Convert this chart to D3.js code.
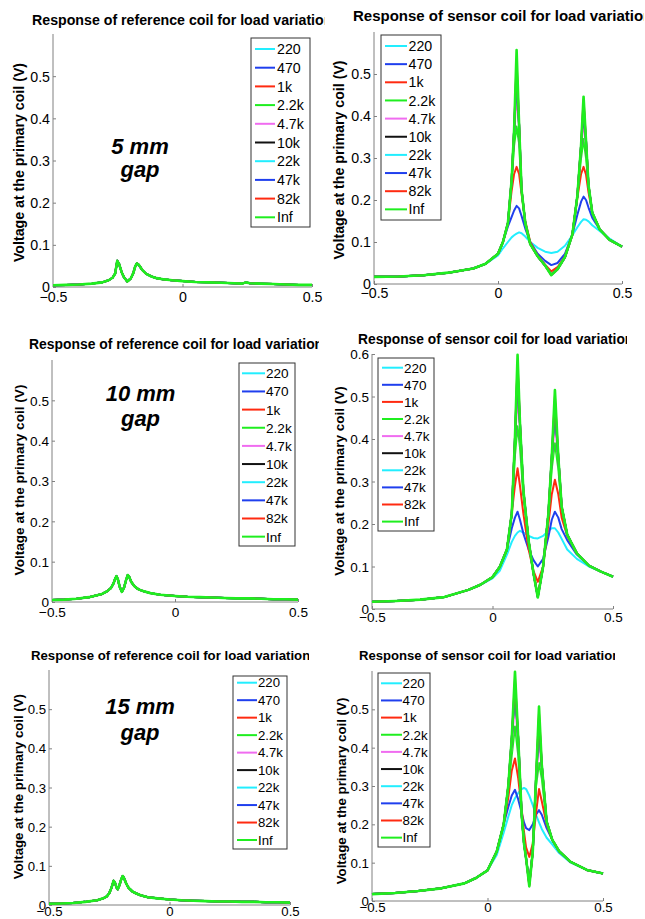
<!DOCTYPE html>
<html>
<head>
<meta charset="utf-8">
<script src="https://cdn.jsdelivr.net/npm/d3@7"></script>
<style>
  body { margin: 0; background: #fff; }
  svg { display: block; font-family: 'Liberation Sans', Arial, sans-serif; }
</style>
</head>
<body>
<div id="chart-area"></div>
<script>
const loads = ['220', '470', '1k', '2.2k', '4.7k', '10k', '22k', '47k', '82k', 'Inf'];
const loadColors = ['#22eeff', '#1f3fee', '#ff2a10', '#1fee1f', '#f06cf0', '#111111', '#22eeff', '#1f3fee', '#ff2a10', '#1fee1f'];
const xTicks = [-0.5, 0, 0.5];
const yTicks = [0, 0.1, 0.2, 0.3, 0.4, 0.5];
const yTicksTall = [0, 0.1, 0.2, 0.3, 0.4, 0.5, 0.6];

// reference coil: all loads sit on the same trace
const refX5 = [-0.5, -0.45, -0.4, -0.35, -0.31, -0.285, -0.27, -0.26, -0.252, -0.245, -0.235, -0.225, -0.213, -0.2, -0.19, -0.182, -0.176, -0.168, -0.155, -0.14, -0.12, -0.1, -0.07, -0.04, 0, 0.05, 0.1, 0.15, 0.2, 0.23, 0.245, 0.26, 0.3, 0.35, 0.4, 0.45, 0.5];
const refY5 = [0.004, 0.005, 0.006, 0.008, 0.011, 0.016, 0.022, 0.032, 0.062, 0.055, 0.035, 0.022, 0.013, 0.02, 0.033, 0.05, 0.056, 0.052, 0.04, 0.031, 0.025, 0.021, 0.018, 0.016, 0.014, 0.012, 0.011, 0.01, 0.009, 0.008, 0.011, 0.009, 0.008, 0.007, 0.006, 0.005, 0.005];
const refX10 = [-0.5, -0.45, -0.4, -0.35, -0.3, -0.275, -0.26, -0.25, -0.243, -0.238, -0.232, -0.225, -0.216, -0.207, -0.199, -0.192, -0.186, -0.178, -0.165, -0.15, -0.13, -0.1, -0.06, 0, 0.05, 0.1, 0.15, 0.2, 0.25, 0.3, 0.35, 0.4, 0.45, 0.5];
const refY10 = [0.005, 0.006, 0.008, 0.012, 0.019, 0.027, 0.035, 0.046, 0.058, 0.064, 0.056, 0.038, 0.025, 0.036, 0.054, 0.067, 0.062, 0.05, 0.039, 0.032, 0.027, 0.022, 0.018, 0.015, 0.013, 0.012, 0.011, 0.01, 0.009, 0.009, 0.008, 0.007, 0.007, 0.006];
const refX15 = [-0.5, -0.45, -0.4, -0.35, -0.3, -0.275, -0.26, -0.25, -0.24, -0.232, -0.226, -0.22, -0.215, -0.208, -0.2, -0.194, -0.188, -0.18, -0.17, -0.155, -0.14, -0.12, -0.09, -0.05, 0, 0.05, 0.1, 0.15, 0.2, 0.25, 0.3, 0.35, 0.4, 0.45, 0.5];
const refY15 = [0.003, 0.004, 0.005, 0.008, 0.012, 0.017, 0.022, 0.03, 0.045, 0.062, 0.057, 0.045, 0.04, 0.05, 0.066, 0.074, 0.068, 0.055, 0.044, 0.035, 0.03, 0.025, 0.02, 0.017, 0.014, 0.012, 0.011, 0.01, 0.009, 0.009, 0.008, 0.008, 0.007, 0.007, 0.006];

// sensor coil: one row per load, same order as `loads`
const sensX5 = [-0.5, -0.4, -0.3, -0.2, -0.1, -0.05, 0, 0.02, 0.04, 0.055, 0.065, 0.075, 0.085, 0.095, 0.11, 0.13, 0.16, 0.19, 0.215, 0.24, 0.27, 0.3, 0.32, 0.335, 0.345, 0.355, 0.365, 0.38, 0.41, 0.45, 0.5];
const sensY5 = [
  [0.017, 0.018, 0.021, 0.027, 0.037, 0.048, 0.068, 0.085, 0.1, 0.111, 0.116, 0.12, 0.123, 0.121, 0.113, 0.1, 0.086, 0.077, 0.074, 0.077, 0.091, 0.116, 0.135, 0.148, 0.154, 0.153, 0.149, 0.14, 0.126, 0.108, 0.089],
  [0.017, 0.018, 0.021, 0.027, 0.037, 0.048, 0.072, 0.1, 0.137, 0.16, 0.175, 0.186, 0.18, 0.162, 0.132, 0.1, 0.072, 0.055, 0.045, 0.05, 0.072, 0.118, 0.165, 0.196, 0.208, 0.2, 0.182, 0.158, 0.13, 0.105, 0.089],
  [0.017, 0.018, 0.021, 0.027, 0.037, 0.048, 0.072, 0.1, 0.145, 0.222, 0.262, 0.279, 0.262, 0.215, 0.15, 0.1, 0.068, 0.046, 0.03, 0.04, 0.066, 0.118, 0.205, 0.262, 0.279, 0.26, 0.218, 0.17, 0.13, 0.105, 0.089],
  [0.017, 0.018, 0.021, 0.027, 0.037, 0.048, 0.072, 0.1, 0.145, 0.245, 0.33, 0.375, 0.335, 0.224, 0.145, 0.095, 0.066, 0.044, 0.023, 0.036, 0.064, 0.118, 0.21, 0.3, 0.345, 0.3, 0.235, 0.17, 0.13, 0.105, 0.089],
  [0.017, 0.018, 0.021, 0.027, 0.037, 0.048, 0.072, 0.1, 0.145, 0.248, 0.36, 0.45, 0.37, 0.224, 0.145, 0.095, 0.066, 0.044, 0.022, 0.035, 0.064, 0.118, 0.21, 0.325, 0.385, 0.33, 0.235, 0.17, 0.13, 0.105, 0.089],
  [0.017, 0.018, 0.021, 0.027, 0.037, 0.048, 0.072, 0.1, 0.145, 0.248, 0.367, 0.49, 0.38, 0.224, 0.145, 0.095, 0.066, 0.044, 0.022, 0.035, 0.064, 0.118, 0.21, 0.33, 0.41, 0.34, 0.235, 0.17, 0.13, 0.105, 0.089],
  [0.017, 0.018, 0.021, 0.027, 0.037, 0.048, 0.072, 0.1, 0.145, 0.248, 0.367, 0.5, 0.38, 0.224, 0.145, 0.095, 0.066, 0.044, 0.022, 0.035, 0.064, 0.118, 0.21, 0.33, 0.42, 0.34, 0.235, 0.17, 0.13, 0.105, 0.089],
  [0.017, 0.018, 0.021, 0.027, 0.037, 0.048, 0.072, 0.1, 0.145, 0.248, 0.367, 0.52, 0.38, 0.224, 0.145, 0.095, 0.066, 0.044, 0.022, 0.035, 0.064, 0.118, 0.21, 0.33, 0.43, 0.34, 0.235, 0.17, 0.13, 0.105, 0.089],
  [0.017, 0.018, 0.021, 0.027, 0.037, 0.048, 0.072, 0.1, 0.145, 0.248, 0.367, 0.53, 0.38, 0.224, 0.145, 0.095, 0.066, 0.044, 0.022, 0.035, 0.064, 0.118, 0.21, 0.33, 0.44, 0.34, 0.235, 0.17, 0.13, 0.105, 0.089],
  [0.017, 0.018, 0.021, 0.027, 0.037, 0.048, 0.072, 0.1, 0.145, 0.248, 0.367, 0.557, 0.38, 0.224, 0.145, 0.095, 0.066, 0.044, 0.021, 0.035, 0.064, 0.118, 0.21, 0.33, 0.446, 0.34, 0.235, 0.17, 0.13, 0.105, 0.089]
];
const sensX10 = [-0.5, -0.4, -0.3, -0.2, -0.1, -0.05, 0, 0.03, 0.06, 0.08, 0.093, 0.104, 0.114, 0.128, 0.15, 0.17, 0.188, 0.21, 0.232, 0.246, 0.259, 0.273, 0.287, 0.31, 0.35, 0.4, 0.45, 0.5];
const sensY10 = [
  [0.017, 0.019, 0.022, 0.028, 0.045, 0.057, 0.072, 0.09, 0.128, 0.158, 0.172, 0.18, 0.184, 0.18, 0.172, 0.167, 0.166, 0.172, 0.184, 0.19, 0.19, 0.18, 0.165, 0.14, 0.118, 0.1, 0.088, 0.076],
  [0.017, 0.019, 0.022, 0.028, 0.045, 0.057, 0.075, 0.099, 0.14, 0.19, 0.215, 0.229, 0.21, 0.178, 0.14, 0.115, 0.1, 0.118, 0.17, 0.21, 0.229, 0.215, 0.188, 0.162, 0.128, 0.102, 0.088, 0.076],
  [0.017, 0.019, 0.022, 0.028, 0.045, 0.057, 0.075, 0.099, 0.14, 0.225, 0.29, 0.331, 0.29, 0.225, 0.14, 0.09, 0.064, 0.1, 0.2, 0.27, 0.304, 0.27, 0.215, 0.172, 0.131, 0.102, 0.088, 0.076],
  [0.017, 0.019, 0.022, 0.028, 0.045, 0.057, 0.075, 0.099, 0.14, 0.225, 0.36, 0.43, 0.38, 0.27, 0.16, 0.084, 0.03, 0.1, 0.225, 0.33, 0.39, 0.33, 0.241, 0.175, 0.131, 0.102, 0.088, 0.076],
  [0.017, 0.019, 0.022, 0.028, 0.045, 0.057, 0.075, 0.099, 0.14, 0.225, 0.39, 0.5, 0.42, 0.28, 0.16, 0.084, 0.028, 0.1, 0.225, 0.35, 0.44, 0.35, 0.241, 0.175, 0.131, 0.102, 0.088, 0.076],
  [0.017, 0.019, 0.022, 0.028, 0.045, 0.057, 0.075, 0.099, 0.14, 0.225, 0.398, 0.545, 0.437, 0.28, 0.16, 0.084, 0.028, 0.1, 0.225, 0.358, 0.47, 0.358, 0.241, 0.175, 0.131, 0.102, 0.088, 0.076],
  [0.017, 0.019, 0.022, 0.028, 0.045, 0.057, 0.075, 0.099, 0.14, 0.225, 0.398, 0.56, 0.437, 0.28, 0.16, 0.084, 0.028, 0.1, 0.225, 0.358, 0.48, 0.358, 0.241, 0.175, 0.131, 0.102, 0.088, 0.076],
  [0.017, 0.019, 0.022, 0.028, 0.045, 0.057, 0.075, 0.099, 0.14, 0.225, 0.398, 0.57, 0.437, 0.28, 0.16, 0.084, 0.028, 0.1, 0.225, 0.358, 0.49, 0.358, 0.241, 0.175, 0.131, 0.102, 0.088, 0.076],
  [0.017, 0.019, 0.022, 0.028, 0.045, 0.057, 0.075, 0.099, 0.14, 0.225, 0.398, 0.58, 0.437, 0.28, 0.16, 0.084, 0.03, 0.1, 0.225, 0.358, 0.5, 0.358, 0.241, 0.175, 0.131, 0.102, 0.088, 0.076],
  [0.017, 0.019, 0.022, 0.028, 0.045, 0.057, 0.075, 0.099, 0.14, 0.225, 0.398, 0.598, 0.437, 0.28, 0.16, 0.084, 0.027, 0.1, 0.225, 0.358, 0.515, 0.358, 0.241, 0.175, 0.131, 0.102, 0.088, 0.076]
];
const sensX15 = [-0.5, -0.4, -0.3, -0.2, -0.1, -0.05, 0, 0.04, 0.07, 0.09, 0.105, 0.119, 0.133, 0.148, 0.158, 0.167, 0.181, 0.196, 0.21, 0.223, 0.235, 0.256, 0.28, 0.31, 0.36, 0.43, 0.5];
const sensY15 = [
  [0.018, 0.021, 0.026, 0.033, 0.046, 0.06, 0.08, 0.12, 0.178, 0.22, 0.25, 0.268, 0.282, 0.292, 0.295, 0.292, 0.275, 0.25, 0.225, 0.205, 0.188, 0.165, 0.148, 0.125, 0.1, 0.081, 0.072],
  [0.018, 0.021, 0.026, 0.033, 0.046, 0.06, 0.08, 0.129, 0.2, 0.245, 0.275, 0.29, 0.265, 0.23, 0.205, 0.19, 0.185, 0.2, 0.225, 0.237, 0.225, 0.19, 0.16, 0.13, 0.102, 0.081, 0.072],
  [0.018, 0.021, 0.026, 0.033, 0.046, 0.06, 0.08, 0.129, 0.2, 0.27, 0.34, 0.372, 0.32, 0.24, 0.18, 0.14, 0.115, 0.15, 0.23, 0.292, 0.26, 0.2, 0.16, 0.13, 0.102, 0.081, 0.072],
  [0.018, 0.021, 0.026, 0.033, 0.046, 0.06, 0.08, 0.129, 0.2, 0.295, 0.38, 0.455, 0.38, 0.224, 0.15, 0.111, 0.05, 0.129, 0.3, 0.36, 0.32, 0.207, 0.16, 0.13, 0.102, 0.081, 0.072],
  [0.018, 0.021, 0.026, 0.033, 0.046, 0.06, 0.08, 0.129, 0.2, 0.3, 0.41, 0.52, 0.41, 0.224, 0.15, 0.111, 0.048, 0.129, 0.31, 0.42, 0.345, 0.207, 0.16, 0.13, 0.102, 0.081, 0.072],
  [0.018, 0.021, 0.026, 0.033, 0.046, 0.06, 0.08, 0.129, 0.2, 0.3, 0.424, 0.55, 0.424, 0.224, 0.15, 0.111, 0.045, 0.129, 0.318, 0.46, 0.355, 0.207, 0.16, 0.13, 0.102, 0.081, 0.072],
  [0.018, 0.021, 0.026, 0.033, 0.046, 0.06, 0.08, 0.129, 0.2, 0.3, 0.424, 0.56, 0.424, 0.224, 0.15, 0.111, 0.044, 0.129, 0.318, 0.47, 0.355, 0.207, 0.16, 0.13, 0.102, 0.081, 0.072],
  [0.018, 0.021, 0.026, 0.033, 0.046, 0.06, 0.08, 0.129, 0.2, 0.3, 0.424, 0.57, 0.424, 0.224, 0.15, 0.111, 0.042, 0.129, 0.318, 0.48, 0.355, 0.207, 0.16, 0.13, 0.102, 0.081, 0.072],
  [0.018, 0.021, 0.026, 0.033, 0.046, 0.06, 0.08, 0.129, 0.2, 0.3, 0.424, 0.58, 0.424, 0.224, 0.15, 0.111, 0.04, 0.129, 0.318, 0.49, 0.355, 0.207, 0.16, 0.13, 0.102, 0.081, 0.072],
  [0.018, 0.021, 0.026, 0.033, 0.046, 0.06, 0.08, 0.129, 0.2, 0.3, 0.424, 0.598, 0.424, 0.224, 0.15, 0.111, 0.038, 0.129, 0.318, 0.507, 0.355, 0.207, 0.16, 0.13, 0.102, 0.081, 0.072]
];

// layout of the six sub-figures (they were pasted together at slightly different scales)
const panels = [
  { title: 'Response of reference coil for load variation', xs: refX5, rows: loads.map(() => refY5), yt: yTicks,
    L: 53, R: 312, T: 34, B: 287, fs: 14.2, tx: 32, ty: 24.5, tfs: 14.2, clip: [0, 0, 324.5, 310],
    leg: { l: 251, t: 38, r: 310, b: 227, x1: 255, x2: 275, tx: 277, y0: 49, dy: 18.7 },
    yl: { x: 19, y: 162.5 }, xlab: 14.5, gap: { text: '5 mm', x: 140, y1: 154, y2: 177 } },
  { title: 'Response of sensor coil for load variation', xs: sensX5, rows: sensY5, yt: yTicks,
    L: 374, R: 622, T: 32, B: 284, fs: 14.2, tx: 353, ty: 21, tfs: 15, clip: [325, 0, 644, 310],
    leg: { l: 381, t: 35, r: 441, b: 220, x1: 385, x2: 407, tx: 408.5, y0: 46, dy: 18.15 },
    yl: { x: 339, y: 160 }, xlab: 14 },
  { title: 'Response of reference coil for load variation', xs: refX10, rows: loads.map(() => refY10), yt: yTicks,
    L: 52, R: 298, T: 360, B: 602, fs: 13.6, tx: 29, ty: 348.5, tfs: 13.9, clip: [0, 310, 319, 620],
    leg: { l: 239, t: 363, r: 295, b: 546, x1: 242, x2: 265, tx: 266, y0: 373.3, dy: 18.15 },
    yl: { x: 19, y: 480 }, xlab: 14.5, gap: { text: '10 mm', x: 140.5, y1: 400.7, y2: 426 } },
  { title: 'Response of sensor coil for load variation', xs: sensX10, rows: sensY10, yt: yTicksTall,
    L: 372, R: 613, T: 354, B: 609, fs: 13.5, tx: 358, ty: 344, tfs: 13.8, clip: [325, 310, 627, 620],
    leg: { l: 378, t: 358, r: 434, b: 531, x1: 382, x2: 403, tx: 404, y0: 367.7, dy: 17.1 },
    yl: { x: 339, y: 481 }, xlab: 12.5 },
  { title: 'Response of reference coil for load variation', xs: refX15, rows: loads.map(() => refY15), yt: yTicks,
    L: 49, R: 290, T: 670, B: 905, fs: 13.2, tx: 31, ty: 659.5, tfs: 13.2, clip: [0, 620, 309, 919],
    leg: { l: 233, t: 676, r: 287, b: 849, x1: 237, x2: 257, tx: 258, y0: 682.7, dy: 17.48 },
    yl: { x: 18, y: 786.7 }, xlab: 11, gap: { text: '15 mm', x: 140, y1: 714, y2: 740 } },
  { title: 'Response of sensor coil for load variation', xs: sensX15, rows: sensY15, yt: yTicks,
    L: 372, R: 603, T: 671, B: 901, fs: 13.3, tx: 359, ty: 660, tfs: 13.1, clip: [325, 620, 615, 919],
    leg: { l: 378, t: 673, r: 430, b: 847, x1: 381, x2: 402, tx: 402.5, y0: 683.3, dy: 17.15 },
    yl: { x: 341, y: 791 }, xlab: 10.5 }
];

const svg = d3.select('#chart-area').append('svg').attr('width', 645).attr('height', 919);
const axisGray = '#808080';

panels.forEach((p, i) => {
  const g = svg.append('g').attr('class', 'panel');
  const x = d3.scaleLinear().domain([-0.5, 0.5]).range([p.L, p.R]);
  const y = d3.scaleLinear().domain([0, 0.6]).range([p.B, p.T]);

  // title, cut off at the edge of the sub-figure like in the original
  const c = p.clip;
  svg.append('clipPath').attr('id', 'clip' + i)
    .append('rect').attr('x', c[0]).attr('y', c[1]).attr('width', c[2] - c[0]).attr('height', c[3] - c[1]);
  g.append('text')
    .attr('clip-path', `url(#clip${i})`)
    .attr('x', p.tx).attr('y', p.ty)
    .attr('font-size', p.tfs).attr('font-weight', 'bold')
    .text(p.title);

  // axes: only left and bottom, ticks pointing inward
  const xAxis = d3.axisBottom(x).tickValues(xTicks).tickSize(-3).tickPadding(0).tickFormat((d) => d3.format('')(d));
  const yAxis = d3.axisLeft(y).tickValues(p.yt).tickSize(-3).tickPadding(0).tickFormat((d) => d3.format('')(d));
  const gx = g.append('g').attr('transform', `translate(0, ${p.B})`).call(xAxis);
  const gy = g.append('g').attr('transform', `translate(${p.L}, 0)`).call(yAxis);
  [gx, gy].forEach((a) => {
    a.selectAll('.tick line').attr('stroke', axisGray);
    a.selectAll('text').attr('fill', '#000').attr('font-size', p.fs).attr('font-family', null);
  });
  gx.select('.domain').attr('stroke', axisGray).attr('d', `M${p.L},0H${p.R}`);
  gy.select('.domain').attr('stroke', axisGray).attr('d', `M0,${p.T}V${p.B}`);
  gx.selectAll('text').attr('y', p.xlab).attr('dy', null);
  gy.selectAll('text').attr('x', -3).attr('dy', '0.35em');

  // data traces, drawn in legend order so Inf ends on top
  const line = d3.line().x((d) => x(d[0])).y((d) => y(d[1]));
  g.append('g').selectAll('path')
    .data(p.rows)
    .enter()
    .append('path')
    .attr('fill', 'none')
    .attr('stroke', (d, k) => loadColors[k])
    .attr('stroke-width', (d, k) => (k === loads.length - 1 ? 2.6 : 2))
    .attr('stroke-linejoin', 'round')
    .attr('d', (row) => line(row.map((v, k) => [p.xs[k], v])));

  // y label
  g.append('text')
    .attr('transform', `translate(${p.yl.x}, ${p.yl.y}) rotate(-90)`)
    .attr('text-anchor', 'middle').attr('dy', '0.35em')
    .attr('font-size', p.fs).attr('font-weight', 'bold')
    .text('Voltage at the primary coil (V)');

  // legend
  const lg = p.leg;
  g.append('rect')
    .attr('x', lg.l).attr('y', lg.t).attr('width', lg.r - lg.l).attr('height', lg.b - lg.t)
    .attr('fill', '#fff').attr('stroke', '#333').attr('stroke-width', 1);
  const items = g.append('g').selectAll('g')
    .data(loads)
    .enter()
    .append('g')
    .attr('transform', (d, k) => `translate(0, ${lg.y0 + k * lg.dy})`);
  items.append('line')
    .attr('x1', lg.x1).attr('x2', lg.x2)
    .attr('stroke', (d, k) => loadColors[k]).attr('stroke-width', 2);
  items.append('text')
    .attr('x', lg.tx).attr('dy', '0.36em')
    .attr('font-size', p.fs)
    .text((d) => d);

  // gap annotation on the reference plots
  if (p.gap) {
    [[p.gap.text, p.gap.y1], ['gap', p.gap.y2]].forEach(([t, yy]) => {
      g.append('text')
        .attr('x', p.gap.x).attr('y', yy)
        .attr('text-anchor', 'middle')
        .attr('font-size', 22).attr('font-weight', 'bold').attr('font-style', 'italic')
        .text(t);
    });
  }
});
</script>
</body>
</html>
